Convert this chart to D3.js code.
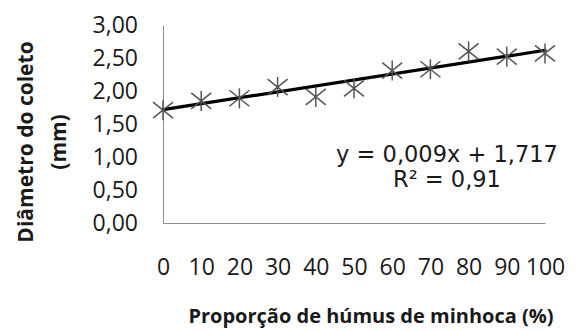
<!DOCTYPE html>
<html>
<head>
<meta charset="utf-8">
<script src="https://cdn.jsdelivr.net/npm/d3@7"></script>
<style>
  body { margin: 0; background: #fff; }
  svg { display: block; }
</style>
</head>
<body>
<div id="chart"></div>
<script>
(function() {
  var humus = [0, 10, 20, 30, 40, 50, 60, 70, 80, 90, 100];
  var diametro = [1.71, 1.85, 1.89, 2.06, 1.91, 2.04, 2.31, 2.33, 2.60, 2.52, 2.57];
  var yTicks = [0, 0.5, 1, 1.5, 2, 2.5, 3];
  var trend = { a: 0.009, b: 1.717, r2: "0,91" };
  var eqLines = ["y = 0,009x + 1,717", "R\u00b2 = " + trend.r2];
  var yTitle = ["Di\u00e2metro do coleto", "(mm)"];
  var xTitle = "Propor\u00e7\u00e3o de h\u00famus de minhoca (%)";

  var W = 579, H = 331;
  var left = 163, right = 545, top = 25, bottom = 223;
  var labelFont = "'Open Sans', sans-serif";

  var br = d3.formatLocale({ decimal: ",", thousands: ".", grouping: [3], currency: ["", ""] });
  var fmt = br.format(".2f");

  var svg = d3.select("#chart").append("svg").attr("width", W).attr("height", H);

  var x = d3.scaleLinear().domain([0, 100]).range([left, right]);
  var y = d3.scaleLinear().domain([0, 3]).range([bottom, top]);

  var yAxis = svg.append("g").attr("transform", "translate(" + left + ",0)")
    .call(d3.axisLeft(y).tickValues(yTicks).tickFormat(fmt).tickSize(0).tickPadding(25));
  var xAxis = svg.append("g").attr("transform", "translate(0," + bottom + ")")
    .call(d3.axisBottom(x).tickValues(humus).tickFormat(d3.format("d")).tickSize(0).tickPadding(36));

  [yAxis, xAxis].forEach(function(g) {
    g.select(".domain").attr("stroke", "#8c8c8c").attr("stroke-width", 1);
    g.selectAll("text").attr("font-family", labelFont).attr("font-size", 23).attr("fill", "#1a1a1a");
  });

  // trendline
  svg.append("line")
    .attr("x1", x(0)).attr("y1", y(trend.b))
    .attr("x2", x(100)).attr("y2", y(trend.a * 100 + trend.b))
    .attr("stroke", "#000").attr("stroke-width", 3.2).attr("stroke-linecap", "round");

  // star markers
  var star = "M-10,-8L10,8M-10,8L10,-8M0,-10L0,10";
  svg.append("g").selectAll("path").data(humus).enter().append("path")
    .attr("transform", function(d, i) { return "translate(" + x(d) + "," + y(diametro[i]) + ")"; })
    .attr("d", star)
    .attr("fill", "none").attr("stroke", "#555").attr("stroke-width", 1.5);

  // equation
  svg.append("g").selectAll("text").data(eqLines).enter().append("text")
    .attr("x", 447).attr("y", function(d, i) { return 162 + i * 25; })
    .attr("text-anchor", "middle")
    .attr("font-family", "'DejaVu Sans', sans-serif").attr("font-size", 22.5).attr("fill", "#1a1a1a")
    .text(function(d) { return d; });

  // axis titles
  svg.append("g").attr("transform", "translate(0,142) rotate(-90)")
    .selectAll("text").data(yTitle).enter().append("text")
    .attr("x", 0).attr("y", function(d, i) { return 33 + i * 33; })
    .attr("text-anchor", "middle")
    .attr("font-family", labelFont).attr("font-weight", "bold").attr("font-size", 21).attr("fill", "#1a1a1a")
    .text(function(d) { return d; });

  svg.append("text")
    .attr("x", 371).attr("y", 323)
    .attr("text-anchor", "middle")
    .attr("font-family", labelFont).attr("font-weight", "bold").attr("font-size", 20).attr("fill", "#1a1a1a")
    .text(xTitle);
})();
</script>
</body>
</html>
